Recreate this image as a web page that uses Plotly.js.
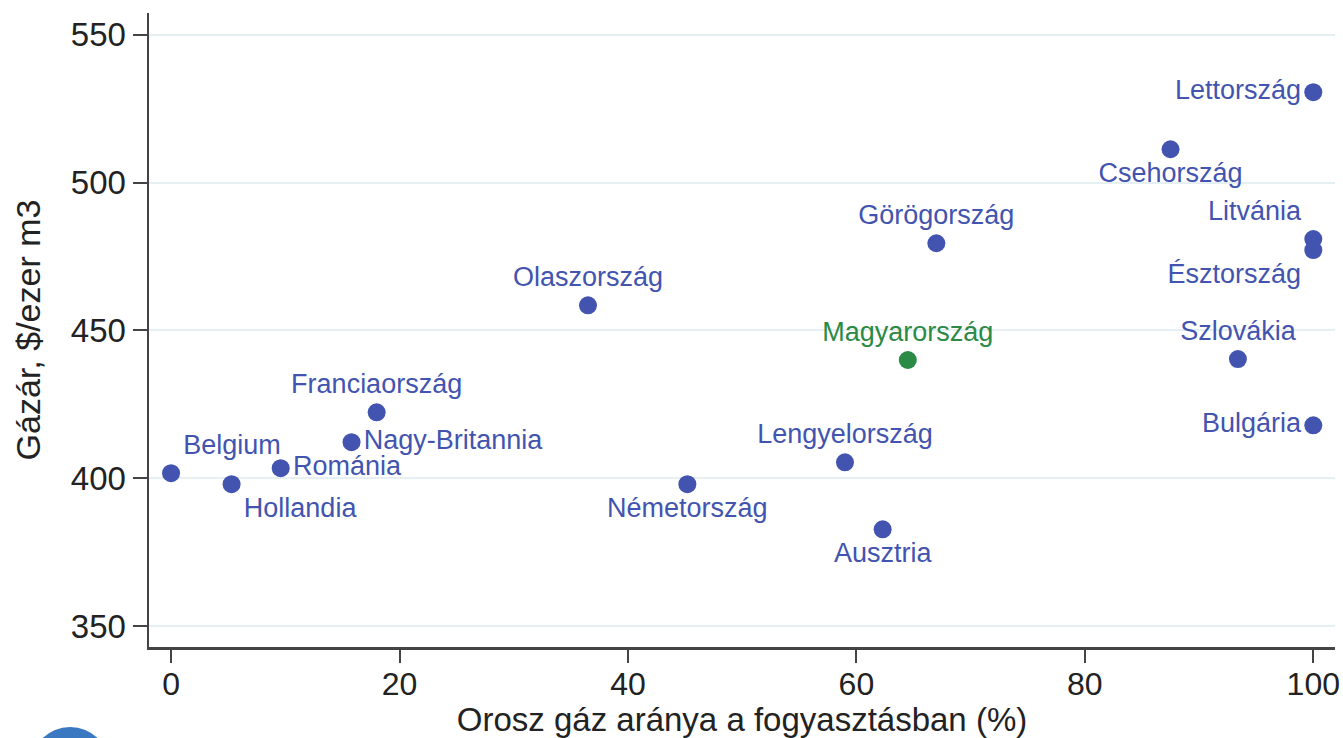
<!DOCTYPE html>
<html>
<head>
<meta charset="utf-8">
<script src="https://cdn.plot.ly/plotly-3.0.1.min.js"></script>
<style>html,body{margin:0;padding:0;background:#fff;}#chart{width:1343px;height:738px;}</style>
</head>
<body>
<div id="chart"></div>
<script>
// Data
const countries = ["Belgium","Hollandia","Románia","Nagy-Britannia","Franciaország","Olaszország","Németország","Lengyelország","Ausztria","Görögország","Csehország","Lettország","Litvánia","Észtország","Szlovákia","Bulgária"];
const russianShare = [0, 5.3, 9.6, 15.8, 18.0, 36.5, 45.2, 59.0, 62.3, 67.0, 87.5, 100, 100, 100, 93.4, 100];
const gasPrice = [401.7, 398.0, 403.4, 412.2, 422.3, 458.5, 398.0, 405.4, 382.7, 479.5, 511.3, 530.6, 480.9, 477.2, 440.3, 417.9];
const labelPos = ["top right","bottom right","middle right","middle right","top center","top center","bottom center","top center","bottom center","top center","bottom center","middle left","top left","bottom left","top center","middle left"];

const hungary = ["Magyarország"];
const hungaryShare = [64.5];
const hungaryPrice = [440.0];

const xTicks = [0, 20, 40, 60, 80, 100];
const yTicks = [350, 400, 450, 500, 550];
const xTitle = "Orosz gáz aránya a fogyasztásban (%)";
const yTitle = "Gázár, $/ezer m3";

const blue = "#4254AF";
const green = "#2B8A45";

const traces = [
  {
    type: "scatter", mode: "markers+text",
    x: russianShare, y: gasPrice, text: countries, textposition: labelPos,
    marker: {size: 18, color: blue},
    textfont: {family: "Liberation Sans, Arial, sans-serif", size: 27, color: blue},
    cliponaxis: false, hoverinfo: "text"
  },
  {
    type: "scatter", mode: "markers+text",
    x: hungaryShare, y: hungaryPrice, text: hungary, textposition: "top center",
    marker: {size: 18, color: green},
    textfont: {family: "Liberation Sans, Arial, sans-serif", size: 27, color: green},
    cliponaxis: false, hoverinfo: "text"
  }
];

const layout = {
  width: 1343, height: 738,
  margin: {l: 149, r: 8, t: 13, b: 91},
  paper_bgcolor: "#ffffff", plot_bgcolor: "#ffffff",
  showlegend: false,
  font: {family: "Liberation Sans, Arial, sans-serif", color: "#222"},
  xaxis: {
    range: [-1.93, 101.9], tickvals: xTicks, ticktext: xTicks.map(String),
    ticks: "outside", ticklen: 13, tickwidth: 2, tickcolor: "#444",
    ticklabelstandoff: -6,
    showline: true, linecolor: "#444", linewidth: 2.5,
    showgrid: false, zeroline: false,
    tickfont: {size: 32, color: "#222"},
    title: {text: xTitle, font: {size: 33, color: "#222"}, standoff: 6}
  },
  yaxis: {
    range: [342.9, 557.4], tickvals: yTicks, ticktext: yTicks.map(String),
    ticks: "outside", ticklen: 14, tickwidth: 2, tickcolor: "#444",
    showline: true, linecolor: "#444", linewidth: 2.5,
    showgrid: true, gridcolor: "#E6F0F2", gridwidth: 2,
    zeroline: false,
    tickfont: {size: 33, color: "#222"},
    title: {text: yTitle, font: {size: 34, color: "#222"}, standoff: 20}
  },
  shapes: [
    {type: "circle", xref: "paper", yref: "paper",
     x0: -0.100, x1: -0.033, y0: -0.252, y1: -0.126,
     fillcolor: "#3A79C2", line: {width: 0}, layer: "above"}
  ]
};

Plotly.newPlot("chart", traces, layout, {displayModeBar: false, staticPlot: true});
</script>
</body>
</html>
